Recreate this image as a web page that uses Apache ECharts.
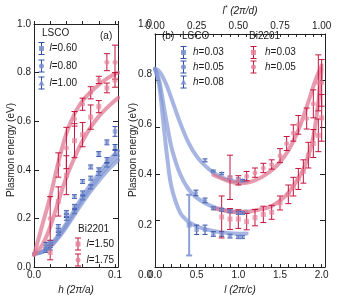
<!DOCTYPE html>
<html><head><meta charset="utf-8">
<script src="https://cdn.jsdelivr.net/npm/echarts@6/dist/echarts.min.js"></script>
<style>html,body{margin:0;padding:0;background:#fff}#c{width:339px;height:300px}</style>
</head><body><div id="c"></div>
<script>
// ---------- Panel (a): E vs h ----------
const hCurve = [0, 0.01, 0.02, 0.03, 0.04, 0.05, 0.06, 0.07, 0.08, 0.09, 0.1, 0.104];
const lscoCurveA1 = [0.055, 0.063, 0.09, 0.13, 0.18, 0.235, 0.29, 0.34, 0.385, 0.43, 0.465, 0.478];
const lscoCurveA2 = [0.055, 0.062, 0.086, 0.124, 0.172, 0.225, 0.278, 0.326, 0.37, 0.41, 0.445, 0.458];
const lscoCurveA3 = [0.055, 0.061, 0.083, 0.12, 0.165, 0.216, 0.266, 0.313, 0.355, 0.395, 0.428, 0.44];
const biCurveA175 = [0.05, 0.17, 0.29, 0.43, 0.55, 0.63, 0.685, 0.72, 0.75, 0.775, 0.795, 0.80];
const biCurveA150 = [0.05, 0.09, 0.165, 0.27, 0.37, 0.45, 0.52, 0.575, 0.62, 0.655, 0.685, 0.697];

const hLsco = [0.015, 0.02, 0.03, 0.04, 0.05, 0.06, 0.07, 0.08, 0.09, 0.1];
const lsco_l060 = [0.09, 0.10, 0.167, 0.225, 0.29, 0.352, 0.412, 0.465, 0.513, 0.558];
const lsco_l060_err = [0.012, 0.01, 0.008, 0.008, 0.008, 0.008, 0.008, 0.01, 0.01, 0.02];
const lsco_l080 = [0.08, 0.09, 0.15, 0.212, 0.25, 0.305, 0.366, 0.40, 0.44, 0.494];
const lsco_l080_err = [0.01, 0.01, 0.008, 0.008, 0.008, 0.008, 0.008, 0.008, 0.01, 0.01];
const lsco_l100 = [0.07, 0.08, 0.14, 0.2, 0.228, 0.285, 0.33, 0.385, 0.42, 0.47];
const lsco_l100_err = [0.01, 0.01, 0.008, 0.008, 0.008, 0.008, 0.008, 0.008, 0.008, 0.01];

const hBi = [0.02, 0.03, 0.04, 0.05, 0.06, 0.07, 0.08, 0.09, 0.1];
const bi_l175 = [0.2, 0.42, 0.49, 0.61, 0.67, 0.717, 0.77, 0.843, 0.843];
const bi_l175_err = [0.09, 0.05, 0.085, 0.03, 0.025, 0.025, 0.015, 0.035, 0.07];
const bi_l150 = [0.06, 0.27, 0.378, 0.52, 0.545, 0.617, 0.66, 0.737, 0.77];
const bi_l150_err = [0.03, 0.06, 0.08, 0.07, 0.05, 0.05, 0.025, 0.02, 0.03];

// ---------- Panel (b): E vs l ----------
const lCurveB = [0, 0.05, 0.1, 0.15, 0.2, 0.3, 0.4, 0.5, 0.6, 0.7, 0.8, 0.9, 1.0, 1.1];
const lscoCurveB_h008 = [0.85, 0.84, 0.81, 0.77, 0.72, 0.62, 0.535, 0.475, 0.435, 0.405, 0.385, 0.372, 0.366, 0.368];
const lscoCurveB_h005 = [0.85, 0.8, 0.7, 0.6, 0.51, 0.4, 0.335, 0.298, 0.275, 0.258, 0.247, 0.24, 0.236, 0.238];
const lscoCurveB_h003 = [0.85, 0.78, 0.62, 0.46, 0.34, 0.235, 0.195, 0.175, 0.163, 0.155, 0.149, 0.145, 0.143, 0.144];
const lCurveBi = [0.7, 0.8, 0.9, 1.0, 1.1, 1.2, 1.3, 1.4, 1.5, 1.6, 1.7, 1.78, 1.86, 1.9, 1.94, 1.97, 2.0];
const biCurveB_h005 = [0.395, 0.38, 0.367, 0.36, 0.362, 0.372, 0.39, 0.415, 0.45, 0.5, 0.57, 0.645, 0.73, 0.775, 0.815, 0.84, 0.865];
const biCurveB_h003 = [0.252, 0.245, 0.238, 0.235, 0.237, 0.243, 0.25, 0.262, 0.285, 0.318, 0.37, 0.418, 0.5, 0.56, 0.65, 0.74, 0.85];

const lLsco003 = [0.5, 0.6, 0.7, 0.8, 0.9, 1.0, 1.05];
const lsco_h003 = [0.16, 0.16, 0.142, 0.142, 0.133, 0.129, 0.129];
const lsco_h003_err = [0.02, 0.02, 0.01, 0.01, 0.008, 0.006, 0.006];
const lLsco003Wide = [0.41];
const lsco_h003_wide = [0.18];
const lsco_h003_wide_err = [0.13];
const lLsco005 = [0.49, 0.6, 0.7, 0.8, 0.9, 1.0, 1.05];
const lsco_h005 = [0.318, 0.286, 0.252, 0.246, 0.239, 0.232, 0.232];
const lsco_h005_err = [0.012, 0.01, 0.006, 0.006, 0.006, 0.006, 0.005];
const lLsco008 = [0.6, 0.7, 0.8, 0.9, 1.0, 1.05];
const lsco_h008 = [0.458, 0.412, 0.402, 0.385, 0.376, 0.372];
const lsco_h008_err = [0.006, 0.004, 0.004, 0.005, 0.006, 0.004];

const lBi003 = [0.8, 0.9, 1.0, 1.1, 1.2, 1.3, 1.4, 1.5, 1.6, 1.66, 1.72, 1.78, 1.84, 1.9, 1.96, 2.0];
const bi_h003 = [0.215, 0.206, 0.206, 0.195, 0.212, 0.226, 0.235, 0.275, 0.312, 0.345, 0.378, 0.41, 0.48, 0.53, 0.565, 0.64];
const bi_h003_err = [0.09, 0.045, 0.04, 0.035, 0.035, 0.035, 0.03, 0.03, 0.04, 0.04, 0.045, 0.05, 0.055, 0.06, 0.07, 0.1];
const lBi005 = [0.9, 1.0, 1.1, 1.2, 1.3, 1.4, 1.5, 1.58, 1.66, 1.72, 1.82, 1.9, 1.96, 2.0];
const bi_h005 = [0.385, 0.372, 0.39, 0.405, 0.425, 0.44, 0.478, 0.53, 0.575, 0.61, 0.637, 0.7, 0.79, 0.79];
const bi_h005_err = [0.095, 0.02, 0.02, 0.02, 0.02, 0.02, 0.03, 0.03, 0.035, 0.04, 0.045, 0.06, 0.12, 0.1];

// ---------- styling ----------
const F = 'Liberation Sans, Arial, Helvetica, sans-serif';
const TXT = '#1a1a1a';
const AX = '#222';
const BLUE_BAR = '#2f4fa6';
const BLUE_PT = 'rgba(120,142,206,0.85)';
const BLUE_CURVE = 'rgba(128,150,212,0.7)';
const RED_BAR = '#c5143d';
const RED_PT = 'rgba(228,128,152,0.85)';
const RED_CURVE = 'rgba(222,112,140,0.7)';

function zip(xs, ys) { return xs.map((x, i) => [x, ys[i]]); }
function curve(xi, yi, xs, ys, color) {
  return { type: 'line', xAxisIndex: xi, yAxisIndex: yi, data: zip(xs, ys), smooth: 0.35,
    symbol: 'none', showSymbol: false, silent: true, clip: true, z: 2,
    lineStyle: { color: color, width: 4, cap: 'round' } };
}
function errBars(xi, yi, xs, ys, es, color, lw, cap) {
  return { type: 'custom', xAxisIndex: xi, yAxisIndex: yi, silent: true, clip: true, z: 3,
    data: xs.map((x, i) => [x, ys[i], es[i]]), encode: { x: 0, y: 1 },
    renderItem: function (params, api) {
      const x = api.value(0), y = api.value(1), e = api.value(2);
      const lo = api.coord([x, y - e]), hi = api.coord([x, y + e]);
      const c = cap / 2, st = { stroke: color, lineWidth: lw };
      return { type: 'group', children: [
        { type: 'line', shape: { x1: lo[0], y1: lo[1], x2: hi[0], y2: hi[1] }, style: st },
        { type: 'line', shape: { x1: lo[0] - c, y1: lo[1], x2: lo[0] + c, y2: lo[1] }, style: st },
        { type: 'line', shape: { x1: hi[0] - c, y1: hi[1], x2: hi[0] + c, y2: hi[1] }, style: st }
      ] };
    } };
}
function points(xi, yi, xs, ys, symbol, color, size) {
  return { type: 'scatter', xAxisIndex: xi, yAxisIndex: yi, data: zip(xs, ys), symbol: symbol,
    symbolSize: size, silent: true, z: 4, itemStyle: { color: color } };
}

const series = [
  curve(0, 0, hCurve, lscoCurveA1, BLUE_CURVE),
  curve(0, 0, hCurve, lscoCurveA2, BLUE_CURVE),
  curve(0, 0, hCurve, lscoCurveA3, BLUE_CURVE),
  curve(0, 0, hCurve, biCurveA175, RED_CURVE),
  curve(0, 0, hCurve, biCurveA150, RED_CURVE),
  errBars(0, 0, hLsco, lsco_l060, lsco_l060_err, BLUE_BAR, 1, 5),
  errBars(0, 0, hLsco, lsco_l080, lsco_l080_err, BLUE_BAR, 1, 5),
  errBars(0, 0, hLsco, lsco_l100, lsco_l100_err, BLUE_BAR, 1, 5),
  points(0, 0, hLsco, lsco_l060, 'rect', BLUE_PT, 4.5),
  points(0, 0, hLsco, lsco_l080, 'circle', BLUE_PT, 4.5),
  points(0, 0, hLsco, lsco_l100, 'triangle', BLUE_PT, 5),
  errBars(0, 0, hBi, bi_l175, bi_l175_err, RED_BAR, 1, 6),
  errBars(0, 0, hBi, bi_l150, bi_l150_err, RED_BAR, 1, 6),
  points(0, 0, hBi, bi_l175, 'circle', RED_PT, 5),
  points(0, 0, hBi, bi_l150, 'rect', RED_PT, 5),

  curve(2, 2, lCurveB, lscoCurveB_h008, BLUE_CURVE),
  curve(2, 2, lCurveB, lscoCurveB_h005, BLUE_CURVE),
  curve(2, 2, lCurveB, lscoCurveB_h003, BLUE_CURVE),
  curve(2, 2, lCurveBi, biCurveB_h005, RED_CURVE),
  curve(2, 2, lCurveBi, biCurveB_h003, RED_CURVE),
  errBars(2, 2, lLsco003Wide, lsco_h003_wide, lsco_h003_wide_err, 'rgba(128,150,212,0.9)', 2, 6),
  errBars(2, 2, lLsco003, lsco_h003, lsco_h003_err, BLUE_BAR, 1, 5),
  errBars(2, 2, lLsco005, lsco_h005, lsco_h005_err, BLUE_BAR, 1, 5),
  errBars(2, 2, lLsco008, lsco_h008, lsco_h008_err, BLUE_BAR, 1, 5),
  points(2, 2, lLsco003Wide, lsco_h003_wide, 'rect', BLUE_PT, 5),
  points(2, 2, lLsco003, lsco_h003, 'rect', BLUE_PT, 4.5),
  points(2, 2, lLsco005, lsco_h005, 'circle', BLUE_PT, 4.5),
  points(2, 2, lLsco008, lsco_h008, 'triangle', BLUE_PT, 5),
  errBars(2, 2, lBi003, bi_h003, bi_h003_err, RED_BAR, 1, 6),
  errBars(2, 2, lBi005, bi_h005, bi_h005_err, RED_BAR, 1, 6),
  points(2, 2, lBi003, bi_h003, 'rect', RED_PT, 5),
  points(2, 2, lBi005, bi_h005, 'circle', RED_PT, 5)
];

const lbl = { fontFamily: F, fontSize: 10, color: TXT };
function xAxisCfg(grid, pos, min, max, interval, opts) {
  return Object.assign({ type: 'value', gridIndex: grid, position: pos, min: min, max: max, interval: interval,
    axisLine: { show: true, onZero: false, lineStyle: { color: AX, width: 1 } },
    axisTick: { show: true, inside: true, length: 3, lineStyle: { color: AX } },
    axisLabel: { show: false }, splitLine: { show: false } }, opts || {});
}
function yAxisCfg(grid, pos, opts) {
  return Object.assign({ type: 'value', gridIndex: grid, position: pos, min: 0, max: 1, interval: 0.2,
    axisLine: { show: true, onZero: false, lineStyle: { color: AX, width: 1 } },
    axisTick: { show: true, inside: true, length: 5, lineStyle: { color: AX } },
    axisLabel: { show: false }, splitLine: { show: false } }, opts || {});
}
function near(v, t) { return Math.abs(v - t) < 1e-6; }
const yLabel = Object.assign({ show: true, margin: 3, hideOverlap: false, formatter: v => v.toFixed(1) }, lbl);

const option = {
  animation: false,
  backgroundColor: '#fff',
  grid: [
    { left: 34, top: 24, width: 84, height: 251 },
    { left: 155, top: 24, width: 170, height: 251 },
    { left: 155, top: 24, width: 170, height: 251 }
  ],
  xAxis: [
    xAxisCfg(0, 'bottom', 0, 0.1037, 0.02, {
      axisLabel: Object.assign({ show: true, margin: 3, showMaxLabel: false, hideOverlap: false,
        formatter: v => near(v, 0) ? '0.0' : (near(v, 0.1) ? '0.1' : '') }, lbl),
      name: '{i|h (2π/a)}', nameLocation: 'middle', nameGap: 15,
      nameTextStyle: { rich: { i: { fontFamily: F, fontSize: 10, fontStyle: 'italic', color: TXT } } } }),
    xAxisCfg(0, 'top', 0, 0.1037, 0.02, { axisTick: { show: true, inside: false, length: 3, lineStyle: { color: AX } } }),
    xAxisCfg(1, 'bottom', 0, 2.04, 0.1, {
      axisLabel: Object.assign({ show: true, margin: 3, showMaxLabel: false, hideOverlap: false,
        formatter: v => { const r = Math.round(v * 2); return near(v * 2, r) ? v.toFixed(1) : ''; } }, lbl),
      name: '{i|l (2π/c)}', nameLocation: 'middle', nameGap: 15,
      nameTextStyle: { rich: { i: { fontFamily: F, fontSize: 10, fontStyle: 'italic', color: TXT } } } }),
    xAxisCfg(1, 'top', 0, 1.02, 0.05, {
      axisLabel: Object.assign({ show: true, margin: 3, showMaxLabel: false, hideOverlap: false,
        formatter: v => { const r = Math.round(v * 4); return near(v * 4, r) ? v.toFixed(2) : ''; } }, lbl),
      name: '{i|l}{s|*}{i| (2π/d)}', nameLocation: 'middle', nameGap: 13,
      nameTextStyle: { rich: {
        i: { fontFamily: F, fontSize: 10, fontStyle: 'italic', color: TXT },
        s: { fontFamily: F, fontSize: 7, fontStyle: 'italic', color: TXT, verticalAlign: 'top', padding: [0, 0, 5, 0] } } } }),
    { type: 'value', gridIndex: 2, min: 0, max: 1, show: false }
  ],
  yAxis: [
    yAxisCfg(0, 'left', { axisLabel: yLabel }),
    yAxisCfg(0, 'right'),
    yAxisCfg(1, 'left'),
    yAxisCfg(1, 'right'),
    yAxisCfg(2, 'left', { axisLine: { show: false, onZero: false }, axisTick: { show: false }, axisLabel: yLabel })
  ],
  series: series
};

// ---------- legend / annotation graphics ----------
function txt(x, y, s, italicVar) {
  if (italicVar) {
    return { type: 'text', x: x, y: y, silent: true, z: 10, style: {
      text: '{i|' + italicVar + '}{n|' + s + '}', verticalAlign: 'middle', align: 'left',
      rich: { i: { fontFamily: F, fontSize: 10, fontStyle: 'italic', fill: TXT },
              n: { fontFamily: F, fontSize: 10, fill: TXT } } } };
  }
  return { type: 'text', x: x, y: y, silent: true, z: 10,
    style: { text: s, fontFamily: F, fontSize: 10, fill: TXT, verticalAlign: 'middle', align: 'left' } };
}
function vtxt(x, y, s) {
  return { type: 'text', x: x, y: y, rotation: Math.PI / 2, silent: true, z: 10,
    style: { text: s, fontFamily: F, fontSize: 10, fill: TXT, verticalAlign: 'middle', align: 'center' } };
}
function icon(x, y, shape, ptColor, barColor) {
  const st = { stroke: barColor, lineWidth: 1 };
  const kids = [
    { type: 'line', shape: { x1: x, y1: y - 6, x2: x, y2: y + 6 }, style: st },
    { type: 'line', shape: { x1: x - 3, y1: y - 6, x2: x + 3, y2: y - 6 }, style: st },
    { type: 'line', shape: { x1: x - 3, y1: y + 6, x2: x + 3, y2: y + 6 }, style: st }
  ];
  if (shape === 'rect') kids.push({ type: 'rect', shape: { x: x - 2.5, y: y - 2.5, width: 5, height: 5 }, style: { fill: ptColor } });
  if (shape === 'circle') kids.push({ type: 'circle', shape: { cx: x, cy: y, r: 2.5 }, style: { fill: ptColor } });
  if (shape === 'triangle') kids.push({ type: 'polygon', shape: { points: [[x, y - 3], [x + 3, y + 2.5], [x - 3, y + 2.5]] }, style: { fill: ptColor } });
  return { type: 'group', silent: true, z: 10, children: kids };
}
option.graphic = { elements: [
  vtxt(11, 150, 'Plasmon energy (eV)'),
  vtxt(133, 150, 'Plasmon energy (eV)'),
  txt(42, 33.5, 'LSCO'),
  txt(100, 36, '(a)'),
  icon(41.5, 48.5, 'rect', BLUE_PT, BLUE_BAR), txt(49.5, 48.5, '=0.60', 'l'),
  icon(41.5, 66, 'circle', BLUE_PT, BLUE_BAR), txt(49.5, 66, '=0.80', 'l'),
  icon(41.5, 83, 'triangle', BLUE_PT, BLUE_BAR), txt(49.5, 83, '=1.00', 'l'),
  txt(78, 229, 'Bi2201'),
  icon(78, 244, 'rect', RED_PT, RED_BAR), txt(86.5, 244, '=1.50', 'l'),
  icon(78, 260, 'circle', RED_PT, RED_BAR), txt(86.5, 260, '=1.75', 'l'),
  txt(162, 36, '(b)'),
  txt(182, 36, 'LSCO'),
  txt(249, 36, 'Bi2201'),
  icon(183.5, 52.5, 'rect', BLUE_PT, BLUE_BAR), txt(193, 52.5, '=0.03', 'h'),
  icon(183.5, 67, 'circle', BLUE_PT, BLUE_BAR), txt(193, 67, '=0.05', 'h'),
  icon(183.5, 82, 'triangle', BLUE_PT, BLUE_BAR), txt(193, 82, '=0.08', 'h'),
  icon(253.5, 52.5, 'rect', RED_PT, RED_BAR), txt(265, 52.5, '=0.03', 'h'),
  icon(253.5, 67, 'circle', RED_PT, RED_BAR), txt(265, 67, '=0.05', 'h')
] };

const chart = echarts.init(document.getElementById('c'), null, { renderer: 'canvas' });
chart.setOption(option);
</script></body></html>
